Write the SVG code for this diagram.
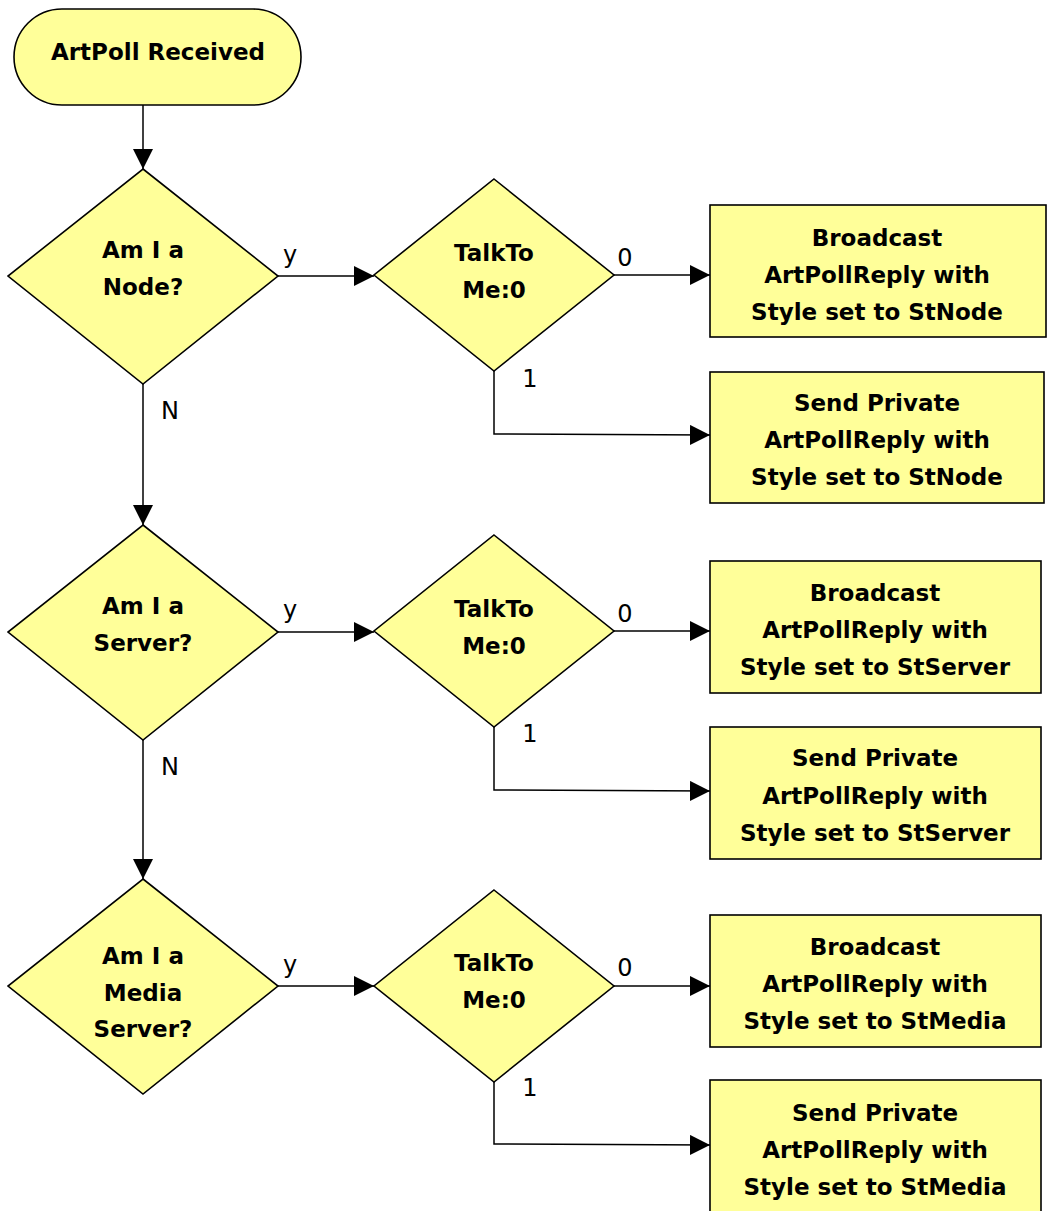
<svg xmlns="http://www.w3.org/2000/svg" width="1048" height="1211" viewBox="0 0 1048 1211">
<style>
.shape{fill:#FFFF99;stroke:#000;stroke-width:1.6}
.t{font-family:"DejaVu Sans",sans-serif;font-weight:bold;font-size:23px;text-anchor:middle;fill:#000}
.lbl{font-family:"DejaVu Sans",sans-serif;font-size:24px;text-anchor:middle;fill:#000}
.c{fill:none;stroke:#000;stroke-width:1.5}
</style>
<defs>
<marker id="ah" markerWidth="20" markerHeight="20" refX="20" refY="10" orient="auto" markerUnits="userSpaceOnUse">
<path d="M0,0 L20,10 L0,20 Z" fill="#000"/>
</marker>
</defs>
<rect width="1048" height="1211" fill="#fff"/>
<g id="connectors">
<line class="c" x1="143" y1="105" x2="143" y2="169" marker-end="url(#ah)"/>
<line class="c" x1="143" y1="384" x2="143" y2="525" marker-end="url(#ah)"/>
<line class="c" x1="143" y1="740" x2="143" y2="879" marker-end="url(#ah)"/>
<line class="c" x1="278" y1="276" x2="374" y2="276" marker-end="url(#ah)"/>
<line class="c" x1="278" y1="632" x2="374" y2="632" marker-end="url(#ah)"/>
<line class="c" x1="278" y1="986" x2="374" y2="986" marker-end="url(#ah)"/>
<line class="c" x1="614" y1="275" x2="710" y2="275" marker-end="url(#ah)"/>
<line class="c" x1="614" y1="631" x2="710" y2="631" marker-end="url(#ah)"/>
<line class="c" x1="614" y1="986" x2="710" y2="986" marker-end="url(#ah)"/>
<polyline class="c" points="494,371 494,434 710,435" marker-end="url(#ah)"/>
<polyline class="c" points="494,727 494,790 710,791" marker-end="url(#ah)"/>
<polyline class="c" points="494,1082 494,1144 710,1145" marker-end="url(#ah)"/>
<text class="lbl" x="290" y="263">y</text>
<text class="lbl" x="290" y="618">y</text>
<text class="lbl" x="290" y="973">y</text>
<text class="lbl" x="625" y="266">0</text>
<text class="lbl" x="625" y="622">0</text>
<text class="lbl" x="625" y="976">0</text>
<text class="lbl" x="530" y="387">1</text>
<text class="lbl" x="530" y="742">1</text>
<text class="lbl" x="530" y="1096">1</text>
<text class="lbl" x="170" y="419">N</text>
<text class="lbl" x="170" y="775">N</text>
</g>
<g id="start">
<rect class="shape" x="14" y="9" width="287" height="96" rx="48" ry="48"/>
<text class="t" x="158" y="60">ArtPoll Received</text>
</g>
<g id="isNode">
<polygon class="shape" points="143,169 278,276 143,384 8,276"/>
<text class="t" x="143" y="258">Am I a</text>
<text class="t" x="143" y="295">Node?</text>
</g>
<g id="talk1">
<polygon class="shape" points="494,179 614,275 494,371 374,275"/>
<text class="t" x="494" y="261">TalkTo</text>
<text class="t" x="494" y="298">Me:0</text>
</g>
<g id="bcNode">
<rect class="shape" x="710" y="205" width="336" height="132"/>
<text class="t" x="877" y="246">Broadcast</text>
<text class="t" x="877" y="283">ArtPollReply with</text>
<text class="t" x="877" y="320">Style set to StNode</text>
</g>
<g id="pvNode">
<rect class="shape" x="710" y="372" width="334" height="131"/>
<text class="t" x="877" y="411">Send Private</text>
<text class="t" x="877" y="448">ArtPollReply with</text>
<text class="t" x="877" y="485">Style set to StNode</text>
</g>
<g id="isServer">
<polygon class="shape" points="143,525 278,632 143,740 8,632"/>
<text class="t" x="143" y="614">Am I a</text>
<text class="t" x="143" y="651">Server?</text>
</g>
<g id="talk2">
<polygon class="shape" points="494,535 614,631 494,727 374,631"/>
<text class="t" x="494" y="617">TalkTo</text>
<text class="t" x="494" y="654">Me:0</text>
</g>
<g id="bcServer">
<rect class="shape" x="710" y="561" width="331" height="132"/>
<text class="t" x="875" y="601">Broadcast</text>
<text class="t" x="875" y="638">ArtPollReply with</text>
<text class="t" x="875" y="675">Style set to StServer</text>
</g>
<g id="pvServer">
<rect class="shape" x="710" y="727" width="331" height="132"/>
<text class="t" x="875" y="766">Send Private</text>
<text class="t" x="875" y="804">ArtPollReply with</text>
<text class="t" x="875" y="841">Style set to StServer</text>
</g>
<g id="isMedia">
<polygon class="shape" points="143,879 278,986 143,1094 8,986"/>
<text class="t" x="143" y="964">Am I a</text>
<text class="t" x="143" y="1001">Media</text>
<text class="t" x="143" y="1037">Server?</text>
</g>
<g id="talk3">
<polygon class="shape" points="494,890 614,986 494,1082 374,986"/>
<text class="t" x="494" y="971">TalkTo</text>
<text class="t" x="494" y="1008">Me:0</text>
</g>
<g id="bcMedia">
<rect class="shape" x="710" y="915" width="331" height="132"/>
<text class="t" x="875" y="955">Broadcast</text>
<text class="t" x="875" y="992">ArtPollReply with</text>
<text class="t" x="875" y="1029">Style set to StMedia</text>
</g>
<g id="pvMedia">
<rect class="shape" x="710" y="1080" width="331" height="140"/>
<text class="t" x="875" y="1121">Send Private</text>
<text class="t" x="875" y="1158">ArtPollReply with</text>
<text class="t" x="875" y="1195">Style set to StMedia</text>
</g>
</svg>
